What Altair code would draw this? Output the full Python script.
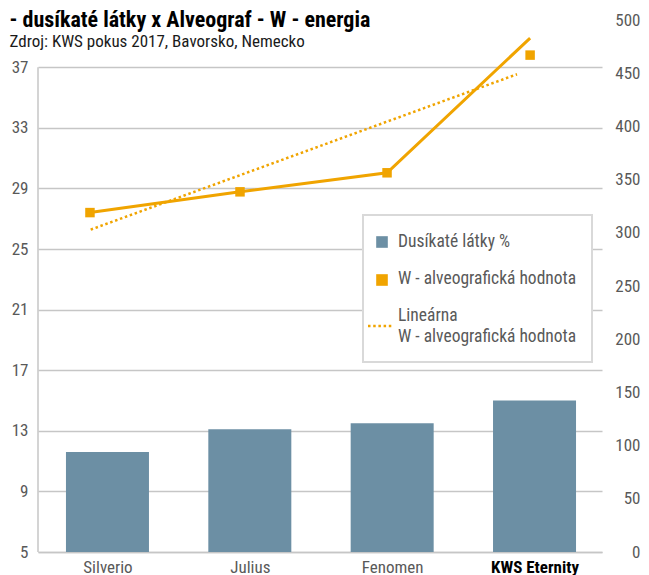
import altair as alt
import pandas as pd

# ---------------- data ----------------
title_text = "- dusíkaté látky x Alveograf - W - energia"
subtitle_text = "Zdroj: KWS pokus 2017, Bavorsko, Nemecko"

categories = ["Silverio", "Julius", "Fenomen", "KWS Eternity"]
cat_pos = [1, 2, 3, 4]
nitrogen = [11.6, 13.1, 13.5, 15.0]             # Dusíkaté látky % (left axis)

w_pos = [0.877, 1.931, 2.964, 3.969]            # position along category axis
w_marker = [319, 338.5, 356.4, 467]             # W - alveografická hodnota (markers)
w_line = [319, 338.5, 356.4, 483]               # W line as drawn

trend_pos = [0.882, 3.877]
trend_w = [303, 449]                            # Lineárna (trend) end points

left_ticks = [5, 9, 13, 17, 21, 25, 29, 33, 37]
right_ticks = [0, 50, 100, 150, 200, 250, 300, 350, 400, 450, 500]

legend_labels = ["Dusíkaté látky %", "W - alveografická hodnota",
                 "Lineárna", "W - alveografická hodnota"]

# ---------------- style ----------------
FONT = "Liberation Sans Narrow, Roboto Condensed, DejaVu Sans Condensed, Liberation Sans, sans-serif"
GRAY_TEXT = "#595959"
BAR = "#6c8fa4"
ORANGE = "#f0a400"
GRID = "#c6c6c6"
AX_FS = 17
LEG_FS = 17.5

bars_df = pd.DataFrame({"cat": categories, "pos": cat_pos, "n": nitrogen})
w_df = pd.DataFrame({"pos": w_pos, "w_marker": w_marker, "w_line": w_line})
trend_df = pd.DataFrame({"pos": trend_pos, "w": trend_w})
one = pd.DataFrame({"k": [0]})

xscale = alt.Scale(domain=[0.512, 4.474], nice=False, zero=False, padding=0)
label_expr = "[" + ",".join("'" + c + "'" for c in categories) + "][datum.value - 1]"
last = len(categories)

x_axis = alt.Axis(
    values=cat_pos, labelExpr=label_expr, title=None, ticks=False, grid=False,
    domain=True, domainColor=GRID, domainWidth=1.5, labelFontSize=AX_FS,
    labelFont=FONT, labelPadding=7,
    labelColor={"condition": {"test": f"datum.value == {last}", "value": "#000000"}, "value": GRAY_TEXT},
    labelFontWeight={"condition": {"test": f"datum.value == {last}", "value": "bold"}, "value": "normal"},
)

yl_scale = alt.Scale(domain=[5, 40.12], nice=False, zero=False)
yl_axis = alt.Axis(values=left_ticks, title=None, grid=True, gridColor=GRID, gridWidth=1.5,
                   domain=False, ticks=False, labelPadding=10, labelFontSize=AX_FS,
                   labelFont=FONT, labelColor=GRAY_TEXT)

bars = alt.Chart(bars_df).mark_bar(size=83, color=BAR).encode(
    x=alt.X("pos:Q", scale=xscale, axis=x_axis),
    y=alt.Y("n:Q", scale=yl_scale, axis=yl_axis),
    y2=alt.datum(5),
)

left_rule = alt.Chart(one).mark_rule(color=GRID, strokeWidth=1.5).encode(
    x=alt.value(0),
    y=alt.YDatum(5, title=None),
    y2=alt.datum(37),
)

left_group = alt.layer(bars, left_rule)

yr_scale = alt.Scale(domain=[0, 500], nice=False, zero=True)
yr_axis = alt.Axis(orient="right", values=right_ticks, title=None, grid=False, domain=False,
                   ticks=False, labelAlign="right", labelPadding=38, labelFontSize=AX_FS,
                   labelFont=FONT, labelColor=GRAY_TEXT)

trend = alt.Chart(trend_df).mark_line(color=ORANGE, strokeWidth=2.5, strokeDash=[2.5, 2.7]).encode(
    x=alt.X("pos:Q", scale=xscale, title=None),
    y=alt.Y("w:Q", scale=yr_scale, axis=yr_axis),
)
line = alt.Chart(w_df).mark_line(color=ORANGE, strokeWidth=3).encode(
    x=alt.X("pos:Q", scale=xscale, title=None),
    y=alt.Y("w_line:Q", scale=yr_scale, title=None),
)
markers = alt.Chart(w_df).mark_square(size=90, color=ORANGE, opacity=1).encode(
    x=alt.X("pos:Q", scale=xscale, title=None),
    y=alt.Y("w_marker:Q", scale=yr_scale, title=None),
)
right_group = alt.layer(trend, line, markers)

# ---------------- titles & legend ----------------
title = alt.Chart(one).mark_text(text=title_text, font=FONT, fontSize=22, fontWeight="bold",
                                 color="#000000", align="left", baseline="alphabetic").encode(
    x=alt.value(-28.5), y=alt.value(7))
subtitle = alt.Chart(one).mark_text(text=subtitle_text, font=FONT, fontSize=17,
                                    color="#1a1a1a", align="left", baseline="middle").encode(
    x=alt.value(-28.5), y=alt.value(22))

leg_box = alt.Chart(one).mark_rect(fill="white", stroke="#d9d9d9", strokeWidth=2).encode(
    x=alt.value(325), x2=alt.value(554), y=alt.value(195), y2=alt.value(342))
leg_sq1 = alt.Chart(one).mark_square(size=135, color=BAR, opacity=1).encode(
    x=alt.value(344), y=alt.value(222))
leg_sq2 = alt.Chart(one).mark_square(size=135, color=ORANGE, opacity=1).encode(
    x=alt.value(344), y=alt.value(260))
leg_dash = alt.Chart(one).mark_rule(color=ORANGE, strokeWidth=2.5, strokeDash=[2.5, 2.7]).encode(
    x=alt.value(330), x2=alt.value(356), y=alt.value(306))

def leg_text(t, y):
    return alt.Chart(one).mark_text(text=t, font=FONT, fontSize=LEG_FS, color=GRAY_TEXT,
                                    align="left", baseline="middle").encode(
        x=alt.value(360), y=alt.value(y))

legend = alt.layer(
    leg_box, leg_sq1, leg_sq2, leg_dash,
    leg_text(legend_labels[0], 222),
    leg_text(legend_labels[1], 259),
    leg_text(legend_labels[2], 296),
    leg_text(legend_labels[3], 317),
    title, subtitle,
)

chart = alt.layer(left_group, right_group, legend).resolve_scale(y="independent").properties(
    width=564, height=532,
    autosize=alt.AutoSizeParams(type="none"),
    padding={"left": 30, "top": 12, "right": 39, "bottom": 30},
).configure_view(stroke=None)

chart.save("out.html", embed_options={"renderer": "svg", "actions": False})
